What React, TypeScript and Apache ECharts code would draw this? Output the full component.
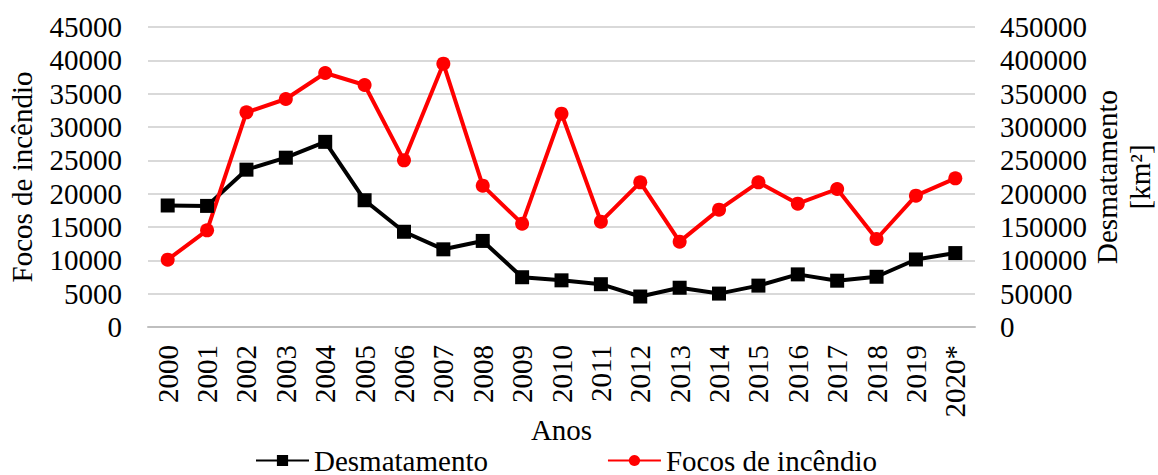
import React, { useEffect, useRef } from "react";
import * as echarts from "echarts";

const years = ["2000","2001","2002","2003","2004","2005","2006","2007","2008","2009","2010","2011","2012","2013","2014","2015","2016","2017","2018","2019","2020*"];
const desmatamento = [18226,18165,23600,25396,27772,19014,14286,11651,12911,7464,7000,6418,4571,5891,5012,6207,7893,6947,7536,10129,11088];
const focos = [101000,145000,322000,342000,381000,363000,250000,395000,212000,155000,320000,158000,217000,128000,176000,217000,185000,207000,132000,197000,223000];

const FONT = "'Liberation Serif', 'Times New Roman', serif";
const FS = 29;

export default function App() {
  const ref = useRef<HTMLDivElement>(null);
  useEffect(() => {
    if (!ref.current) return;
    const chart = echarts.init(ref.current, null, { renderer: "svg" });
    chart.setOption({
      animation: false,
      backgroundColor: "#ffffff",
      textStyle: { fontFamily: FONT, color: "#000" },
      grid: { left: 148, right: 183, top: 27, bottom: 148, containLabel: false, outerBoundsMode: "none" },
      legend: {
        left: 255,
        top: 446,
        padding: 0,
        itemWidth: 53,
        itemHeight: 14,
        itemGap: 119,
        textStyle: { fontFamily: FONT, fontSize: FS, color: "#000", padding: [0, 0, 0, 0] },
        data: ["Desmatamento", "Focos de incêndio"],
      },
      xAxis: {
        type: "category",
        data: years,
        boundaryGap: true,
        name: "Anos",
        nameLocation: "middle",
        nameGap: 88,
        nameMoveOverlap: false,
        nameTextStyle: { fontFamily: FONT, fontSize: FS, color: "#000" },
        axisLine: { show: true, lineStyle: { color: "#bfbfbf", width: 2 } },
        axisTick: { show: false },
        axisLabel: { rotate: 90, margin: 18, fontFamily: FONT, fontSize: FS, color: "#000", interval: 0 },
      },
      yAxis: [
        {
          type: "value",
          min: 0,
          max: 45000,
          interval: 5000,
          name: "Focos de incêndio",
          nameLocation: "middle",
          nameRotate: 90,
          nameGap: 112,
          nameMoveOverlap: false,
          nameTextStyle: { fontFamily: FONT, fontSize: FS, color: "#000" },
          axisLine: { show: false },
          axisTick: { show: false },
          axisLabel: { margin: 26, fontFamily: FONT, fontSize: FS, color: "#000", formatter: (v: number) => String(v) },
          splitLine: { show: true, lineStyle: { color: "#d9d9d9", width: 2 } },
        },
        {
          type: "value",
          min: 0,
          max: 450000,
          interval: 50000,
          position: "right",
          name: "Desmatamento\n[km²]",
          nameLocation: "middle",
          nameRotate: 90,
          nameGap: 115,
          nameMoveOverlap: false,
          nameTextStyle: { fontFamily: FONT, fontSize: FS, color: "#000", lineHeight: 33 },
          axisLine: { show: false },
          axisTick: { show: false },
          axisLabel: { margin: 25, fontFamily: FONT, fontSize: FS, color: "#000", formatter: (v: number) => String(v) },
          splitLine: { show: false },
        },
      ],
      series: [
        {
          name: "Desmatamento",
          type: "line",
          yAxisIndex: 0,
          data: desmatamento,
          symbol: "rect",
          symbolSize: 14,
          itemStyle: { color: "#000" },
          lineStyle: { color: "#000", width: 4 },
        },
        {
          name: "Focos de incêndio",
          type: "line",
          yAxisIndex: 1,
          data: focos,
          symbol: "circle",
          symbolSize: 14,
          itemStyle: { color: "#ff0000" },
          lineStyle: { color: "#ff0000", width: 4 },
        },
      ],
    });
    return () => chart.dispose();
  }, []);
  return <div ref={ref} style={{ width: 1158, height: 475, position: "absolute", left: 0, top: 0 }} />;
}
